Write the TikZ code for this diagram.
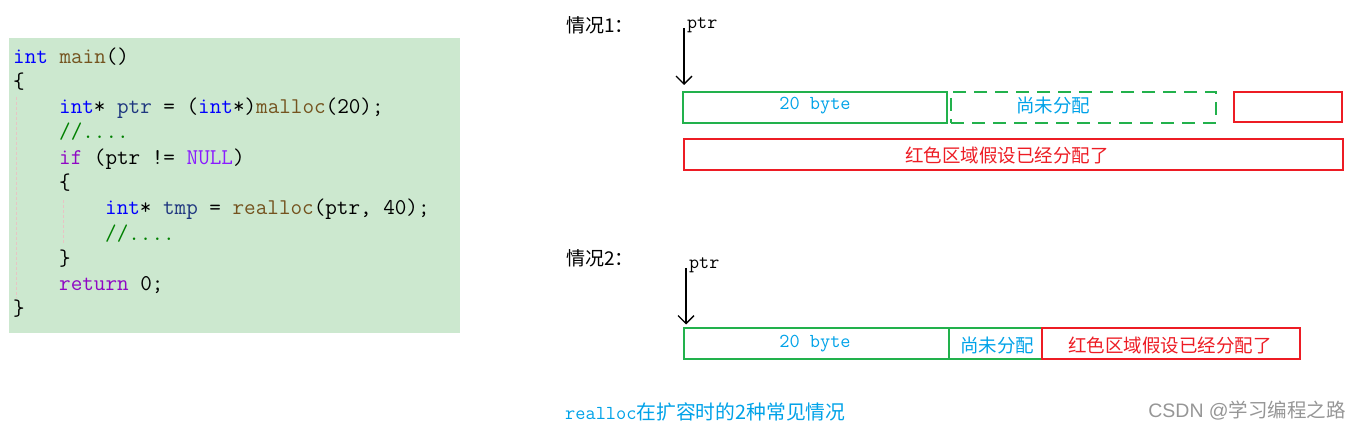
\documentclass[tikz,border=0pt]{standalone}
\usepackage{fontspec}
\newfontfamily\cjk{Noto Sans CJK SC}
\newfontfamily\wmfont{Liberation Sans}
\usetikzlibrary{arrows.meta}
\definecolor{codebg}{RGB}{204,232,207}
\definecolor{kwblue}{RGB}{0,0,255}
\definecolor{fnbrown}{RGB}{116,83,31}
\definecolor{varblue}{RGB}{31,55,127}
\definecolor{ctlpurple}{RGB}{143,8,196}
\definecolor{macpurple}{RGB}{138,27,255}
\definecolor{cmgreen}{RGB}{0,128,0}
\definecolor{guide}{RGB}{232,196,196}
\definecolor{pcyan}{RGB}{0,162,232}
\definecolor{pred}{RGB}{237,28,36}
\definecolor{pgreen}{RGB}{34,177,76}
\definecolor{wmgray}{RGB}{150,150,150}
\newcommand{\kwd}[1]{\textcolor{kwblue}{#1}}
\newcommand{\fnn}[1]{\textcolor{fnbrown}{#1}}
\newcommand{\vrb}[1]{\textcolor{varblue}{#1}}
\newcommand{\ctl}[1]{\textcolor{ctlpurple}{#1}}
\newcommand{\mcr}[1]{\textcolor{macpurple}{#1}}
\newcommand{\cmt}[1]{\textcolor{cmgreen}{#1}}
\begin{document}
\begin{tikzpicture}[x=1pt,y=-1pt,
  code/.style={anchor=base west,inner sep=0pt,font=\fontsize{22.5}{25}\selectfont\ttfamily},
  gbox/.style={draw=pgreen,line width=1.4pt,inner sep=0pt,outer sep=0pt,minimum height=31pt},
  rbox/.style={draw=pred,line width=1.4pt,inner sep=0pt,outer sep=0pt,minimum height=31pt},
  bytelbl/.style={text=pcyan,font=\fontsize{19.8}{22}\selectfont\ttfamily,inner sep=0pt},
  cjklbl/.style={font=\fontsize{18.5}{22}\selectfont\cjk,inner sep=0pt},
  head/.style={font=\fontsize{19}{22}\selectfont\cjk,inner sep=0pt,anchor=west},
  ptrlbl/.style={font=\fontsize{19.5}{22}\selectfont\ttfamily,inner sep=0pt,anchor=west},
  arr/.style={-{Straight Barb[length=8pt,width=16pt,line width=1.3pt]},line width=1.3pt},
  guideline/.style={draw=guide,line width=0.8pt,dash pattern=on 3pt off 2pt}]
\useasboundingbox (0,0) rectangle (1361,430);
% code panel
\fill[codebg] (9,38) rectangle (460,333);
\draw[guideline] (16,97) -- (16,298);
\draw[guideline] (63,200) -- (63,244);
\node[code] (c1) at (13,64) {\kwd{int} \fnn{main}()};
\node[code] (c2) at (13,89) {\{};
\node[code] (c3) at (59,114) {\kwd{int}* \vrb{ptr} = (\kwd{int}*)\fnn{malloc}(20);};
\node[code] (c4) at (59,139) {\cmt{//....}};
\node[code] (c5) at (59,165) {\ctl{if} (ptr != \mcr{NULL})};
\node[code] (c6) at (59,190) {\{};
\node[code] (c7) at (105,215) {\kwd{int}* \vrb{tmp} = \fnn{realloc}(ptr, 40);};
\node[code] (c8) at (105,241) {\cmt{//....}};
\node[code] (c9) at (59,266) {\}};
\node[code] (c10) at (59,291) {\ctl{return} 0;};
\node[code] (c11) at (13,316) {\}};
% case 1
\node[head] (h1) at (566,25) {情况1：};
\node[ptrlbl] (p1) at (687,25) {ptr};
\coordinate (a1) at (684,28);
\node[gbox,minimum width=264pt] (b11) at (815,107.5) {};
\node[bytelbl] (t11) at (815,106) {20 byte};
\node[draw=pgreen,line width=1.4pt,dash pattern=on 13pt off 8pt,inner sep=0pt,outer sep=0pt,minimum height=31pt,minimum width=265pt] (b12) at (1083.5,107.5) {};
\node[cjklbl,text=pcyan] (t12) at (1053,106) {尚未分配};
\node[rbox,minimum width=108pt,minimum height=30pt] (b13) at (1288,107) {};
\node[rbox,minimum width=659pt] (b14) at (1013.5,154.5) {};
\node[cjklbl,text=pred] (t14) at (1007,155) {红色区域假设已经分配了};
\draw[arr] (a1) -- ([yshift=7pt]a1 |- b11.north);
% case 2
\node[head] (h2) at (566,258) {情况2：};
\node[ptrlbl] (p2) at (689,265) {ptr};
\coordinate (a2) at (686,268);
\node[gbox,minimum width=265pt] (b21) at (816.5,343.5) {};
\node[bytelbl] (t21) at (815,344) {20 byte};
\node[gbox,minimum width=93pt] (b22) at (995.5,343.5) {};
\node[cjklbl,text=pcyan] (t22) at (997,345) {尚未分配};
\node[rbox,minimum width=258pt] (b23) at (1171,343.5) {};
\node[cjklbl,text=pred] (t23) at (1170,345) {红色区域假设已经分配了};
\draw[arr] (a2) -- ([yshift=3.5pt]a2 |- b21.north);
% caption
\node[inner sep=0pt,anchor=west,text=pcyan] (cap) at (565,412) {\fontsize{19.8}{22}\selectfont\ttfamily realloc\cjk 在扩容时的2种常见情况};
\node[inner sep=0pt,anchor=east,text=wmgray] (wm) at (1346,411) {\fontsize{19.5}{22}\selectfont\wmfont CSDN @\cjk 学习编程之路};
\end{tikzpicture}
\end{document}
